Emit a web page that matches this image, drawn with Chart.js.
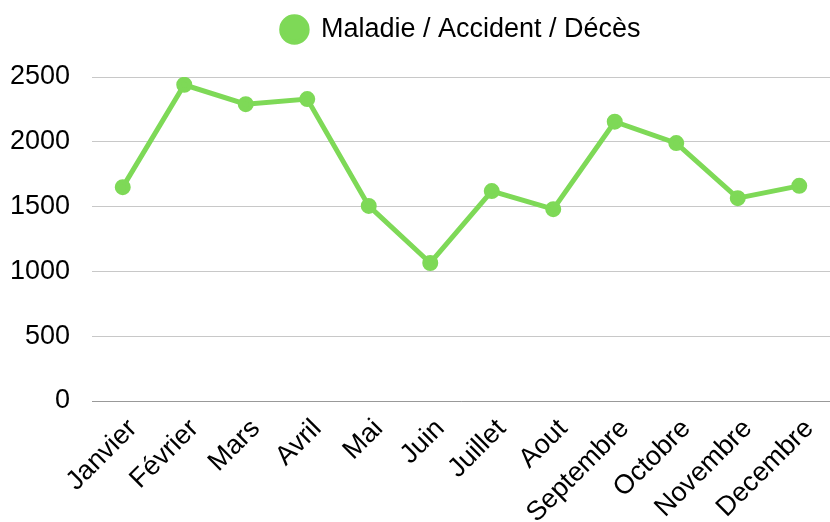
<!DOCTYPE html>
<html>
<head>
<meta charset="utf-8">
<script src="https://cdn.jsdelivr.net/npm/chart.js@4/dist/chart.umd.min.js"></script>
<style>
	body { margin: 0; background: #fff; }
	#wrap { width: 830px; height: 522px; }
</style>
</head>
<body>
<div id="wrap"><canvas id="lineChart"></canvas></div>
<script>
const months = ['Janvier', 'Février', 'Mars', 'Avril', 'Mai', 'Juin', 'Juillet', 'Aout', 'Septembre', 'Octobre', 'Novembre', 'Decembre'];
const seriesName = 'Maladie / Accident / Décès';
const values = [1650, 2440, 2290, 2330, 1505, 1065, 1620, 1480, 2155, 1990, 1565, 1660];
const yTicks = [0, 500, 1000, 1500, 2000, 2500];

const green = '#7ed957';
const font = { family: 'Liberation Sans', size: 27 };

// extra space under the legend, before the plot starts
const legendGap = {
	id: 'legendGap',
	afterInit(chart) {
		const fit = chart.legend.fit;
		chart.legend.fit = function () {
			fit.call(this);
			this.height += 24;
		};
	},
};

var ctx = document.getElementById('lineChart');

var myLine = new Chart(ctx, {
	type: 'line',
	data: {
		labels: months,
		datasets: [
			{
				label: seriesName,
				data: values,
				borderColor: green,
				backgroundColor: green,
				borderWidth: 5,
				pointRadius: 5.5,
				pointHoverRadius: 5.5,
				pointStyle: 'circle',
				tension: 0,
			},
		],
	},
	options: {
		responsive: true,
		maintainAspectRatio: false,
		animation: false,
		layout: { autoPadding: false, padding: { left: 0, right: 0, top: 0, bottom: 0 } },
		plugins: {
			legend: {
				display: true,
				position: 'top',
				fullSize: false,
				labels: {
					usePointStyle: true,
					boxWidth: 26,
					boxHeight: 18,
					color: '#000',
					font: font,
					padding: 16,
				},
			},
			tooltip: { enabled: false },
		},
		scales: {
			x: {
				offset: true,
				grid: { display: false, drawTicks: false },
				border: { display: true, color: '#999', width: 1 },
				ticks: {
					color: '#000',
					font: font,
					minRotation: 45,
					maxRotation: 45,
					padding: 12,
					labelOffset: 10,
					autoSkip: false,
				},
				afterFit: (axis) => {
					axis.height = 121;
					axis.paddingLeft = 0;
					axis.paddingRight = 0;
				},
			},
			y: {
				min: yTicks[0],
				max: yTicks[yTicks.length - 1],
				afterBuildTicks: (axis) => {
					axis.ticks = yTicks.map((v) => ({ value: v }));
				},
				afterFit: (axis) => {
					axis.width = 92;
				},
				grid: { color: '#c8c8c8', drawTicks: false },
				border: { display: false },
				ticks: {
					color: '#000',
					font: font,
					padding: 22,
					callback: (v) => String(v),
				},
			},
		},
	},
	plugins: [legendGap],
});
</script>
</body>
</html>
